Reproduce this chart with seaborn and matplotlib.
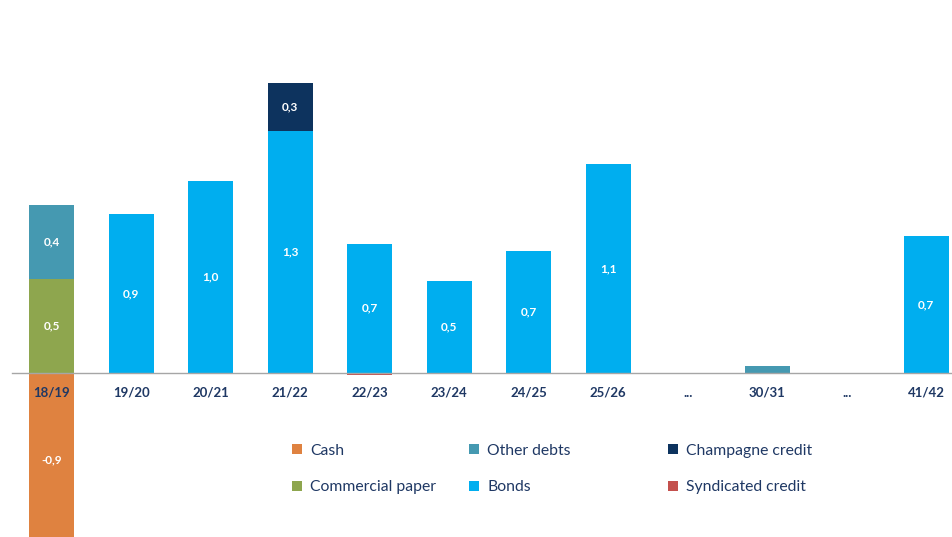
import matplotlib
matplotlib.use("Agg")
import matplotlib.pyplot as plt
from matplotlib.patches import Patch
import seaborn as sns
import numpy as np
import pandas as pd

# ---- data ----
categories = ["18/19", "19/20", "20/21", "21/22", "22/23", "23/24", "24/25",
              "25/26", "...", "30/31", "...", "41/42"]
commercial_paper = [0.51, 0, 0, 0, 0, 0, 0, 0, 0, 0, 0, 0]
other_debts      = [0.40, 0, 0, 0, 0, 0, 0, 0, 0, 0.04, 0, 0]
bonds            = [0, 0.86, 1.04, 1.31, 0.70, 0.50, 0.66, 1.13, 0, 0, 0, 0.74]
champagne_credit = [0, 0, 0, 0.26, 0, 0, 0, 0, 0, 0, 0, 0]
cash             = [-0.94, 0, 0, 0, 0, 0, 0, 0, 0, 0, 0, 0]
syndicated       = [0, 0, 0, 0, -0.01, 0, 0, 0, 0, 0, 0, 0]

colors = {
    "Cash": "#DF8240",
    "Other debts": "#4599B1",
    "Champagne credit": "#0D335E",
    "Commercial paper": "#8EA64E",
    "Bonds": "#00AEEF",
    "Syndicated credit": "#C4504D",
}
navy = "#1F3864"

sns.set_theme(style="white")
plt.rcParams["font.family"] = ["Lato", "DejaVu Sans"]

fig = plt.figure(figsize=(9.52, 5.37), dpi=100)
# axes extends slightly past the right figure edge (as in the reference)
ax = fig.add_axes([12 / 952, 0, 954 / 952, 1])

idx = list(range(len(categories)))
pos_series = [("Commercial paper", commercial_paper), ("Other debts", other_debts),
              ("Bonds", bonds), ("Champagne credit", champagne_credit)]
neg_series = [("Cash", cash), ("Syndicated credit", syndicated)]
neg_names = [n for n, _ in neg_series]

bw = 0.57
pos_bottom = np.zeros(len(idx))
neg_bottom = np.zeros(len(idx))
segments = []
for name, vals in pos_series + neg_series:
    vals = np.array(vals, dtype=float)
    if name in neg_names:
        bottom = neg_bottom.copy()
        neg_bottom += vals
    else:
        bottom = pos_bottom.copy()
        pos_bottom += vals
    df = pd.DataFrame({"x": idx, "v": vals})
    sns.barplot(data=df, x="x", y="v", order=idx, color=colors[name],
                saturation=1, width=bw, bottom=bottom, errorbar=None,
                linewidth=0, ax=ax)
    for i, v in enumerate(vals):
        if abs(v) >= 0.1:
            segments.append((i, bottom[i] + v / 2, v))

for i, yc, v in segments:
    ax.text(i, yc, f"{v:.1f}".replace(".", ","), ha="center", va="center",
            color="white", fontsize=8.5, fontweight="bold")

ax.set_xlim(-0.5, len(idx) - 0.5)
ax.set_ylim(-164 / 185, 373 / 185)
ax.set_xlabel("")
ax.set_ylabel("")
ax.set_yticks([])
for s in ["top", "right", "left"]:
    ax.spines[s].set_visible(False)
ax.spines["bottom"].set_position(("data", 0))
ax.spines["bottom"].set_color("#A6A6A6")
ax.spines["bottom"].set_linewidth(1)
ax.set_axisbelow(False)

ax.set_xticks(idx)
ax.set_xticklabels(categories, fontsize=9.5, fontweight="bold", color=navy)
ax.set_xticks(np.arange(-0.5, len(idx), 1.0), minor=True)
ax.tick_params(axis="x", which="major", length=0, pad=10)
ax.tick_params(axis="x", which="minor", length=5, width=1, color="#A6A6A6",
               direction="out")
ax.set_facecolor("none")

legend_cols = [
    (292, ["Cash", "Commercial paper"]),
    (469, ["Other debts", "Bonds"]),
    (668, ["Champagne credit", "Syndicated credit"]),
]
for xpx, names in legend_cols:
    handles = [Patch(facecolor=colors[n], edgecolor="none", label=n) for n in names]
    leg = fig.legend(handles=handles, loc="center left",
                     bbox_to_anchor=(xpx / 952, 1 - 469 / 537),
                     frameon=False, fontsize=11.3, handlelength=0.65,
                     handleheight=0.65, handletextpad=0.5, labelspacing=1.45,
                     borderpad=0, borderaxespad=0)
    for t in leg.get_texts():
        t.set_color(navy)

fig.savefig("out.png", dpi=100)
